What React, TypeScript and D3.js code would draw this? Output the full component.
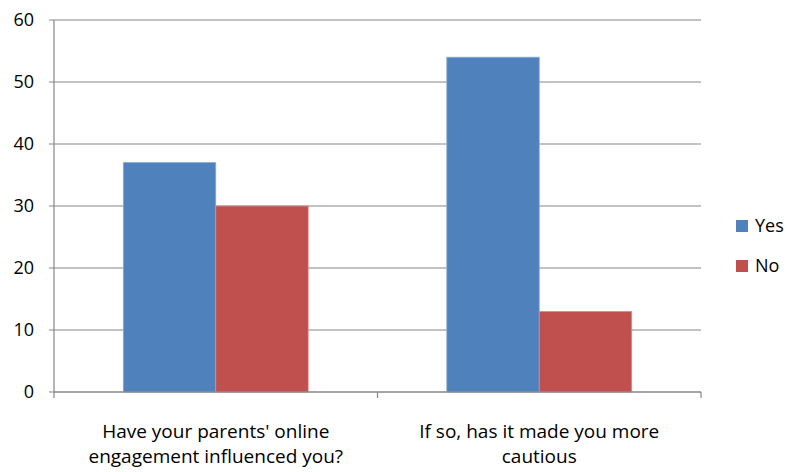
import React from "react";
import * as d3 from "d3";

const categories = [
  ["Have your parents' online", "engagement influenced you?"],
  ["If so, has it made you more", "cautious"],
];
const seriesNames = ["Yes", "No"];
const yesValues = [37, 54];
const noValues = [30, 13];
const yTicks = [0, 10, 20, 30, 40, 50, 60];
const colors = ["#4F81BD", "#C0504D"];
const borders = ["#8AAAD6", "#D98C8A"];

export default function App() {
  const W = 787, H = 472;
  const left = 54, right = 701, top = 20, bottom = 392;
  const font = "'Open Sans', sans-serif";
  const y = d3.scaleLinear().domain([0, 60]).range([bottom, top]);
  const x0 = d3.scaleBand<number>().domain([0, 1]).range([left, right]).paddingInner(0).paddingOuter(0);
  const bw = x0.bandwidth();
  const groupW = bw * (2 / 3.5);
  const x1 = d3.scaleBand<number>().domain([0, 1]).range([0, groupW]);
  const series = [yesValues, noValues];

  return (
    <svg width={W} height={H} style={{ position: "absolute", left: 0, top: 0 }}>
      <rect x={0} y={0} width={W} height={H} fill="#fff" />
      {yTicks.map((t) => (
        <g key={t}>
          <line x1={left - 5} x2={right} y1={y(t)} y2={y(t)} stroke="#868686" strokeWidth={1.2} />
          <text x={34} y={y(t)} dy="0.36em" textAnchor="end" fontFamily={font} fontSize={18} fill="#000">{t}</text>
        </g>
      ))}
      {series.map((vals, si) =>
        vals.map((v, ci) => {
          const gx = (x0(ci) as number) + (bw - groupW) / 2 + (x1(si) as number);
          return (
            <rect key={`${si}-${ci}`} x={gx} y={y(v)} width={x1.bandwidth()} height={bottom - y(v)}
              fill={colors[si]} stroke={borders[si]} strokeWidth={0.8} />
          );
        })
      )}
      <line x1={left} x2={left} y1={top} y2={bottom} stroke="#868686" strokeWidth={1.2} />
      <line x1={left} x2={right} y1={bottom} y2={bottom} stroke="#868686" strokeWidth={1.2} />
      {[0, 1, 2].map((i) => {
        const xx = left + i * bw;
        return <line key={i} x1={xx} x2={xx} y1={bottom} y2={bottom + 6} stroke="#868686" strokeWidth={1.2} />;
      })}
      {categories.map((lines, ci) => (
        <text key={ci} x={(x0(ci) as number) + bw / 2} y={438} textAnchor="middle" fontFamily={font} fontSize={19} fill="#000">
          {lines.map((l, li) => (
            <tspan key={li} x={(x0(ci) as number) + bw / 2} dy={li === 0 ? 0 : 25}>{l}</tspan>
          ))}
        </text>
      ))}
      {seriesNames.map((s, i) => (
        <g key={s}>
          <rect x={736} y={220 + i * 40} width={12} height={12} fill={colors[i]} />
          <text x={755} y={226 + i * 40} dy="0.36em" fontFamily={font} fontSize={18} fill="#000">{s}</text>
        </g>
      ))}
    </svg>
  );
}
